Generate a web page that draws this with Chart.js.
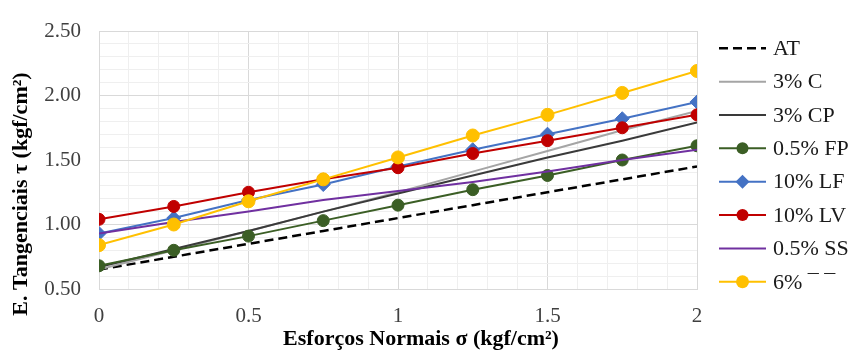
<!DOCTYPE html>
<html>
<head>
<meta charset="utf-8">
<script src="https://cdn.jsdelivr.net/npm/chart.js@4/dist/chart.umd.min.js"></script>
<style>
  html, body { margin: 0; padding: 0; background: #ffffff; }
  #wrap { width: 866px; height: 356px; }
</style>
</head>
<body>
<div id="wrap"><canvas id="c" width="866" height="356"></canvas></div>
<script>
// ---- data ----
const xValues = [0, 0.25, 0.5, 0.75, 1, 1.25, 1.5, 1.75, 2];
const seriesNames = ['AT', '3% C', '3% CP', '0.5% FP', '10% LF', '10% LV', '0.5% SS', '6% \u00AF \u00AF'];
const AT   = [0.65, 0.75, 0.85, 0.95, 1.05, 1.15, 1.25, 1.35, 1.45];
const C3   = [0.65, 0.80, 0.95, 1.10, 1.25, 1.41, 1.57, 1.73, 1.88];
const CP3  = [0.67, 0.81, 0.95, 1.10, 1.24, 1.38, 1.52, 1.65, 1.79];
const FP05 = [0.68, 0.80, 0.91, 1.03, 1.15, 1.27, 1.38, 1.50, 1.61];
const LF10 = [0.93, 1.05, 1.19, 1.31, 1.45, 1.58, 1.70, 1.82, 1.95];
const LV10 = [1.04, 1.14, 1.25, 1.35, 1.44, 1.55, 1.65, 1.75, 1.85];
const SS05 = [0.93, 1.02, 1.10, 1.19, 1.26, 1.33, 1.41, 1.50, 1.58];
const T6   = [0.84, 1.00, 1.18, 1.35, 1.52, 1.69, 1.85, 2.02, 2.19];
const xTickLabels = ['0', '0.5', '1', '1.5', '2'];
const yTickLabels = ['0.50', '1.00', '1.50', '2.00', '2.50'];
const xTitle = 'Esfor\u00e7os Normais \u03c3 (kgf/cm\u00b2)';
const yTitle = 'E. Tangenciais \u03c4 (kgf/cm\u00b2)';

// ---- styles ----
const FONT = '"Liberation Serif", "Times New Roman", serif';
const styles = [
  { color: '#000000', width: 2.5, dash: [9, 5], point: false, radius: 0 },
  { color: '#a5a5a5', width: 2, dash: [], point: false, radius: 0 },
  { color: '#3a3a3a', width: 2, dash: [], point: false, radius: 0 },
  { color: '#3b5e25', width: 2, dash: [], point: 'circle', radius: 6 },
  { color: '#4472c4', width: 2, dash: [], point: 'rectRot', radius: 7 },
  { color: '#c00000', width: 2, dash: [], point: 'circle', radius: 6 },
  { color: '#7030a0', width: 2, dash: [], point: false, radius: 0 },
  { color: '#ffc000', width: 2, dash: [], point: 'circle', radius: 6.5 }
];
const seriesValues = [AT, C3, CP3, FP05, LF10, LV10, SS05, T6];

const datasets = seriesValues.map((vals, i) => {
  const s = styles[i];
  return {
    label: seriesNames[i],
    data: vals.map((v, j) => ({ x: xValues[j], y: v })),
    borderColor: s.color,
    backgroundColor: s.color,
    borderWidth: s.width,
    borderDash: s.dash,
    pointStyle: s.point || 'circle',
    pointRadius: s.radius,
    pointHoverRadius: s.radius,
    pointBackgroundColor: s.color,
    pointBorderColor: s.color,
    pointBorderWidth: 1,
    tension: 0,
    fill: false,
    order: seriesValues.length - 1 - i
  };
});

const MAJOR = '#d9d9d9', MINOR = '#efefef';
const isMajor = v => Math.abs(v * 2 - Math.round(v * 2)) < 1e-6;

const overlay = {
  id: 'overlay',
  afterDraw(chart) {
    const ctx = chart.ctx;
    ctx.save();
    // axis titles
    ctx.fillStyle = '#000000';
    ctx.font = 'bold 22px ' + FONT;
    ctx.textAlign = 'center';
    ctx.textBaseline = 'middle';
    ctx.fillText(xTitle, 421, 339);
    ctx.translate(21, 194);
    ctx.rotate(-Math.PI / 2);
    ctx.fillText(yTitle, 0, 0);
    ctx.restore();

    // legend
    ctx.save();
    const x0 = 719, x1 = 766, tx = 773, y0 = 48.3, dy = 33.35;
    chart.data.datasets.forEach((ds, i) => {
      const s = styles[i];
      const y = y0 + i * dy;
      ctx.strokeStyle = s.color;
      ctx.lineWidth = s.width;
      ctx.setLineDash(s.dash);
      ctx.beginPath();
      ctx.moveTo(x0, y);
      ctx.lineTo(x1, y);
      ctx.stroke();
      ctx.setLineDash([]);
      const cx = (x0 + x1) / 2;
      ctx.fillStyle = s.color;
      if (s.point === 'circle') {
        ctx.beginPath();
        ctx.arc(cx, y, s.radius, 0, Math.PI * 2);
        ctx.fill();
      } else if (s.point === 'rectRot') {
        const r = s.radius;
        ctx.beginPath();
        ctx.moveTo(cx, y - r);
        ctx.lineTo(cx + r, y);
        ctx.lineTo(cx, y + r);
        ctx.lineTo(cx - r, y);
        ctx.closePath();
        ctx.fill();
      }
      ctx.fillStyle = '#1a1a1a';
      ctx.font = '22px ' + FONT;
      ctx.textAlign = 'left';
      ctx.textBaseline = 'middle';
      ctx.fillText(ds.label, tx, y + 1);
    });
    ctx.restore();
  }
};

new Chart(document.getElementById('c'), {
  type: 'line',
  data: { datasets },
  options: {
    responsive: false,
    animation: false,
    layout: { padding: { top: 31, right: 169, bottom: 0, left: 0 } },
    plugins: { legend: { display: false }, tooltip: { enabled: false } },
    scales: {
      x: {
        type: 'linear',
        min: 0, max: 2,
        afterFit(scale) { scale.height = 67; },
        grid: {
          drawTicks: false,
          color: c => (c.tick && isMajor(c.tick.value)) ? MAJOR : MINOR,
          lineWidth: 1
        },
        border: { color: MAJOR },
        ticks: {
          stepSize: 0.1,
          autoSkip: false,
          maxRotation: 0,
          padding: 15,
          color: '#404040',
          font: { family: FONT, size: 21 },
          callback: v => isMajor(v) ? xTickLabels[Math.round(v / 0.5)] : ''
        },
        title: { display: false }
      },
      y: {
        type: 'linear',
        min: 0.5, max: 2.5,
        afterFit(scale) { scale.width = 99; },
        grid: {
          drawTicks: false,
          color: c => (c.tick && isMajor(c.tick.value)) ? MAJOR : MINOR,
          lineWidth: 1
        },
        border: { color: MAJOR },
        ticks: {
          stepSize: 0.1,
          autoSkip: false,
          padding: 18,
          color: '#404040',
          font: { family: FONT, size: 21 },
          callback: v => isMajor(v) ? yTickLabels[Math.round((v - 0.5) / 0.5)] : ''
        },
        title: { display: false }
      }
    }
  },
  plugins: [overlay]
});
</script>
</body>
</html>
